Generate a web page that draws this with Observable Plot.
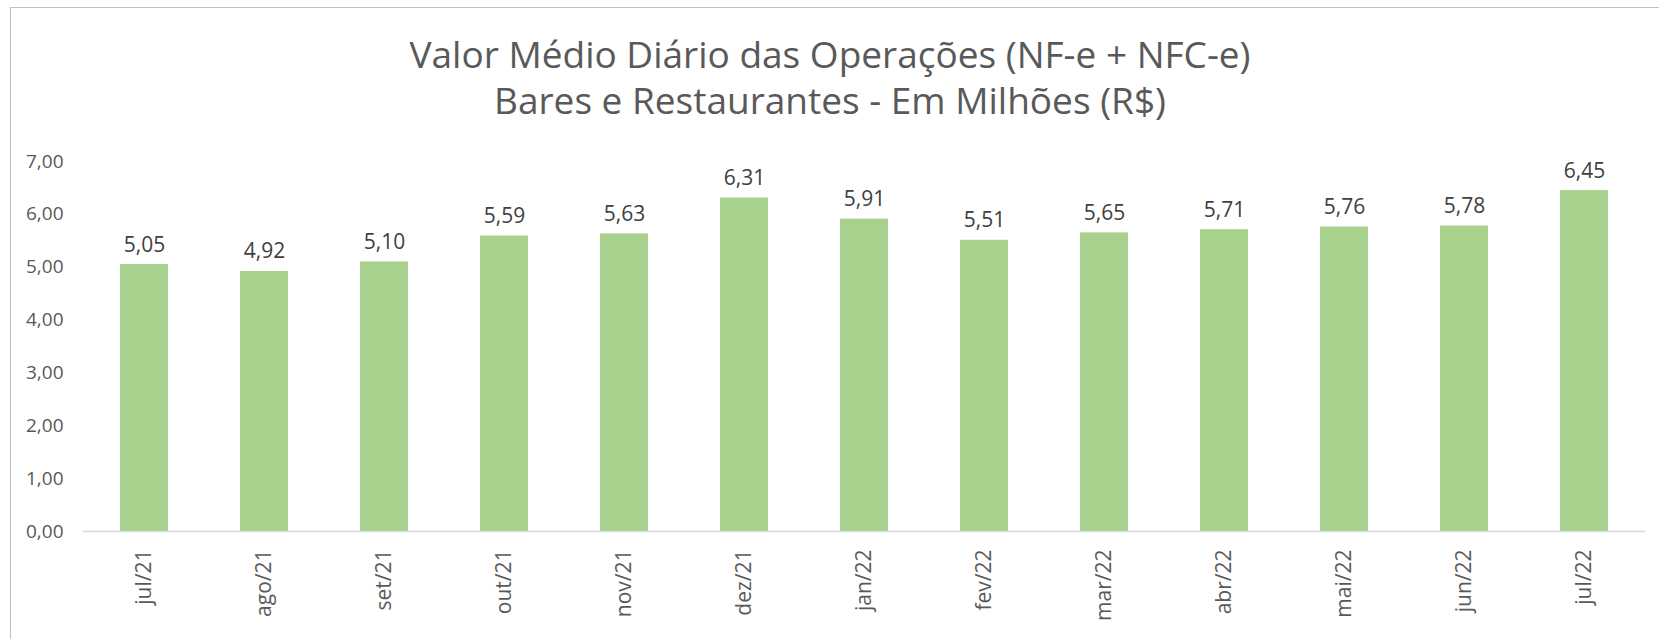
<!DOCTYPE html>
<html>
<head>
<meta charset="utf-8">
<script src="https://cdn.jsdelivr.net/npm/d3@7"></script>
<script src="https://cdn.jsdelivr.net/npm/@observablehq/plot@0.6"></script>
<style>
  html, body { margin: 0; padding: 0; background: #fff; }
  #wrap { position: relative; width: 1659px; height: 639px; overflow: hidden; background: #fff; font-family: "Open Sans", sans-serif; }
  #frame { position: absolute; left: 10px; top: 7px; width: 1700px; height: 700px; border: 1.5px solid #BFBFBF; box-sizing: border-box; }
  #title { position: absolute; left: 10px; width: 1640px; top: 31px; text-align: center; color: #595959; font-size: 37px; line-height: 46px; }
  #chart { position: absolute; left: 0; top: 130px; }
</style>
</head>
<body>
<div id="wrap">
  <div id="frame"></div>
  <div id="title"><div>Valor Médio Diário das Operações (NF-e + NFC-e)</div><div>Bares e Restaurantes - Em Milhões (R$)</div></div>
  <div id="chart"></div>
</div>
<script>
const months = ["jul/21","ago/21","set/21","out/21","nov/21","dez/21","jan/22","fev/22","mar/22","abr/22","mai/22","jun/22","jul/22"];
const values = [5.05, 4.92, 5.10, 5.59, 5.63, 6.31, 5.91, 5.51, 5.65, 5.71, 5.76, 5.78, 6.45];
const yTicks = [0, 1, 2, 3, 4, 5, 6, 7];

const data = months.map((m, i) => ({month: m, value: values[i]}));
const fmt = v => d3.format(".2f")(v).replace(".", ",");

const plot = Plot.plot({
  width: 1659,
  height: 509,
  marginLeft: 83,
  marginRight: 14,
  marginTop: 31,
  marginBottom: 108,
  style: {fontFamily: "Open Sans, sans-serif", background: "transparent"},
  x: {domain: months, paddingInner: 0.6, paddingOuter: 0.3, label: null},
  y: {domain: [0, 7], label: null},
  marks: [
    Plot.axisY({ticks: yTicks, tickFormat: fmt, tickSize: 0, tickPadding: 20, fontSize: 19, fill: "#595959", label: null}),
    Plot.axisX({tickSize: 0, tickPadding: 18, tickRotate: -90, fontSize: 21, fill: "#595959", label: null}),
    Plot.barY(data, {x: "month", y: "value", fill: "#A9D18E"}),
    Plot.ruleY([0], {stroke: "#D9D9D9", strokeWidth: 1.5}),
    Plot.text(data, {x: "month", y: "value", text: d => fmt(d.value), lineAnchor: "bottom", dy: -13, fontSize: 21, fill: "#404040"})
  ]
});
document.getElementById("chart").appendChild(plot);
</script>
</body>
</html>
